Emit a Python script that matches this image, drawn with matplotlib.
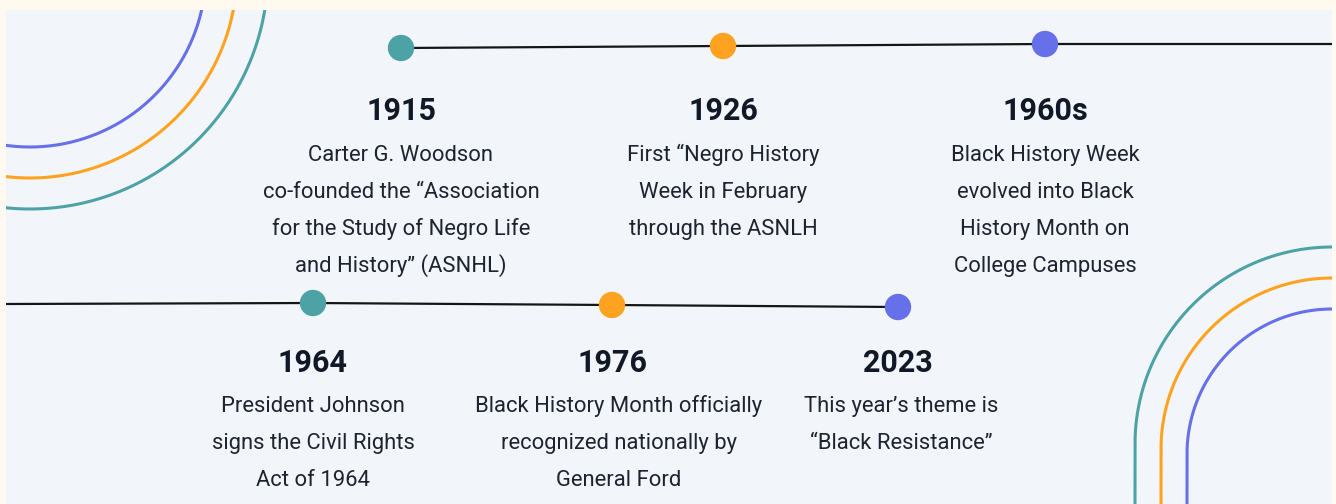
import numpy as np
import matplotlib
matplotlib.use("Agg")
import matplotlib.pyplot as plt
from matplotlib.patches import Rectangle

plt.rcParams['font.family'] = ['Roboto', 'DejaVu Sans']

TEAL = "#4DA2A6"
ORANGE = "#FFA21F"
BLUE = "#6670E8"

# timeline events, top row then bottom row
top_years = ["1915", "1926", "1960s"]
top_texts = [
    ["Carter G. Woodson", "co-founded the \u201cAssociation",
     "for the Study of Negro Life", "and History\u201d (ASNHL)"],
    ["First \u201cNegro History", "Week in February", "through the ASNLH"],
    ["Black History Week", "evolved into Black",
     "History Month on", "College Campuses"],
]
bottom_years = ["1964", "1976", "2023"]
bottom_texts = [
    ["President Johnson", "signs the Civil Rights", "Act of 1964"],
    ["Black History Month officially", "recognized nationally by",
     "General Ford"],
    ["This year\u2019s theme is", "\u201cBlack Resistance\u201d"],
]
dot_colors = [TEAL, ORANGE, BLUE]

# layout (pixel units of the 1336x504 canvas)
W, H = 1336, 504
top_x = [401, 723, 1045]
top_y = [48, 46, 44]
top_text_dx = [0, 0, 0]
bottom_x = [313, 612, 898]
bottom_y = [303, 305, 307]
bottom_text_dx = [0, 7, 3]
panel = (6, 10, 1332, 504)

fig = plt.figure(figsize=(W / 100, H / 100), dpi=100)
fig.patch.set_facecolor("#FFF9F0")
ax = fig.add_axes([0, 0, 1, 1])
ax.set_xlim(0, W)
ax.set_ylim(H, 0)
ax.axis("off")

bg = Rectangle((panel[0], panel[1]), panel[2] - panel[0], panel[3] - panel[1],
               facecolor="#F2F6FB", edgecolor="none", zorder=0)
ax.add_patch(bg)

# decorative arcs, top-left
t = np.linspace(0, np.pi, 400)
for r, c in zip([176, 207, 238], [BLUE, ORANGE, TEAL]):
    ln, = ax.plot(30 + r * np.cos(t), -29 + r * np.sin(t), color=c, lw=2.2, zorder=1)
    ln.set_clip_path(bg)

# decorative arcs, bottom-right (quarter circle turning into vertical line)
cx = 1332
t2 = np.linspace(np.pi, 1.5 * np.pi, 300)
for r, cy, c in zip([197, 171, 145], [444, 449, 454], [TEAL, ORANGE, BLUE]):
    xs = np.concatenate([[cx - r], cx + r * np.cos(t2)])
    ys = np.concatenate([[H + 5], cy + r * np.sin(t2)])
    ln, = ax.plot(xs, ys, color=c, lw=2.2, zorder=1)
    ln.set_clip_path(bg)

# timeline lines
ax.plot(top_x + [panel[2]], top_y + [top_y[-1]], color="#151515", lw=1.6, zorder=2,
        solid_capstyle="butt")
ax.plot([panel[0]] + bottom_x, [bottom_y[0] + 1] + bottom_y, color="#151515", lw=1.6,
        zorder=2, solid_capstyle="butt")

ax.scatter(top_x, top_y, s=19 ** 2, c=dot_colors, zorder=3, linewidths=0)
ax.scatter(bottom_x, bottom_y, s=19 ** 2, c=dot_colors, zorder=3, linewidths=0)

YEAR_COLOR = "#111827"
TEXT_COLOR = "#1E2330"


def draw_block(x, dx, year, lines, year_base, first_base):
    ax.text(x, year_base, year, ha="center", va="baseline", fontsize=22,
            fontweight="bold", color=YEAR_COLOR, zorder=4)
    for i, s in enumerate(lines):
        ax.text(x + dx, first_base + 37 * i, s, ha="center", va="baseline",
                fontsize=15.8, color=TEXT_COLOR, zorder=4)


for x, dx, yr, lines in zip(top_x, top_text_dx, top_years, top_texts):
    draw_block(x, dx, yr, lines, 120, 161)
for x, dx, yr, lines in zip(bottom_x, bottom_text_dx, bottom_years, bottom_texts):
    draw_block(x, dx, yr, lines, 372, 412)

fig.savefig("out.png", dpi=100, facecolor=fig.get_facecolor())
